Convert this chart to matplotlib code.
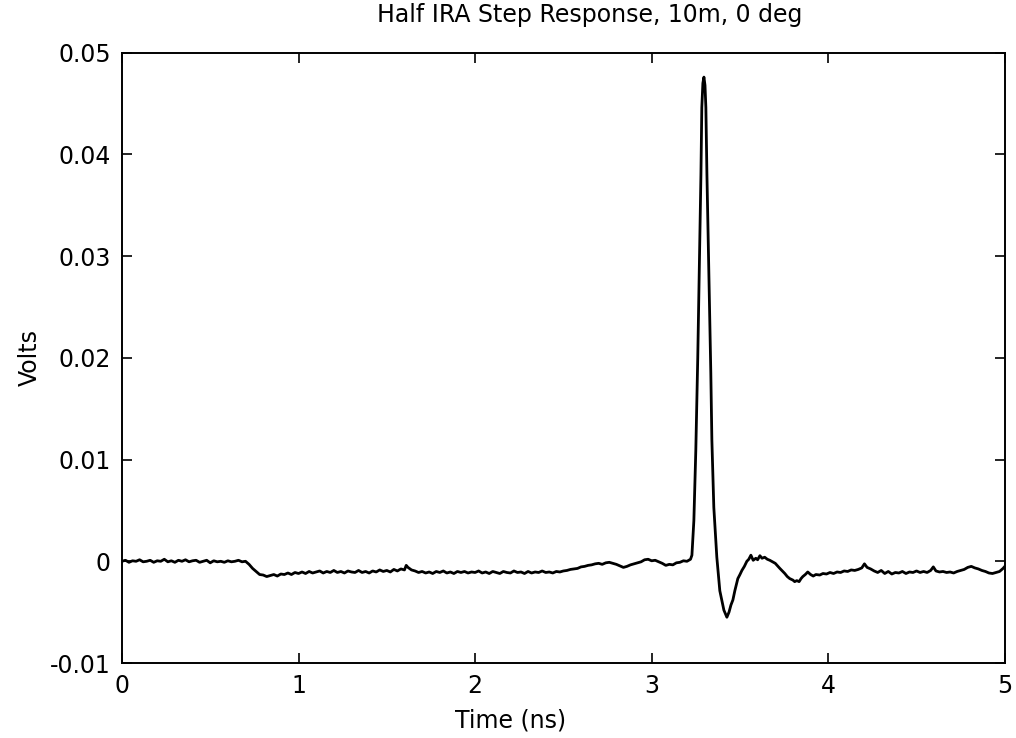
"""Half IRA step response trace, redrawn in matplotlib."""

import numpy as np
import matplotlib
matplotlib.use("Agg")
import matplotlib.pyplot as plt

# trace: time in ns, voltage in mV
time_ns = [
    0.00, 0.02, 0.04, 0.06, 0.08, 0.10, 0.12, 0.14, 0.16, 0.18,
    0.20, 0.22, 0.24, 0.26, 0.28, 0.30, 0.32, 0.34, 0.36, 0.38,
    0.40, 0.42, 0.44, 0.46, 0.48, 0.50, 0.52, 0.54, 0.56, 0.58,
    0.60, 0.62, 0.64, 0.66, 0.68, 0.70,
    0.72, 0.74, 0.76, 0.78, 0.80, 0.82, 0.84, 0.86, 0.88, 0.90,
    0.92, 0.94, 0.96, 0.98, 1.00,
    1.02, 1.04, 1.06, 1.08, 1.10, 1.12, 1.14, 1.16, 1.18, 1.20,
    1.22, 1.24, 1.26, 1.28, 1.30, 1.32, 1.34, 1.36, 1.38, 1.40,
    1.42, 1.44, 1.46, 1.48, 1.50, 1.52, 1.54, 1.56, 1.58, 1.60,
    1.61, 1.62, 1.64, 1.66, 1.68, 1.70, 1.72, 1.74, 1.76, 1.78,
    1.80, 1.82, 1.84, 1.86, 1.88, 1.90, 1.92, 1.94, 1.96, 1.98,
    2.00, 2.02, 2.04, 2.06, 2.08, 2.10, 2.12, 2.14, 2.16, 2.18,
    2.20, 2.22, 2.24, 2.26, 2.28, 2.30, 2.32, 2.34, 2.36, 2.38,
    2.40, 2.42, 2.44, 2.46, 2.48, 2.50, 2.52, 2.54, 2.56, 2.58,
    2.60, 2.62, 2.64, 2.66, 2.68, 2.70, 2.72, 2.74, 2.76, 2.78,
    2.80, 2.82, 2.84, 2.86, 2.88, 2.90, 2.92, 2.94, 2.96, 2.98,
    3.00, 3.02, 3.04, 3.06, 3.08, 3.10, 3.12, 3.14, 3.16, 3.18,
    3.20, 3.22,
    3.228, 3.239, 3.250, 3.261, 3.273, 3.279, 3.284, 3.290, 3.296, 3.302,
    3.307, 3.313, 3.324, 3.335, 3.341, 3.352, 3.369, 3.386, 3.398, 3.409,
    3.426, 3.438, 3.449, 3.460, 3.471, 3.488, 3.500, 3.511, 3.525, 3.539,
    3.550, 3.562, 3.575, 3.590, 3.600, 3.613, 3.625, 3.640, 3.655, 3.669,
    3.685, 3.700, 3.713, 3.726, 3.740, 3.754, 3.768, 3.782, 3.800, 3.810,
    3.822, 3.835, 3.846, 3.856, 3.870, 3.884, 3.900, 3.915, 3.930, 3.952,
    3.97, 3.99, 4.01, 4.03, 4.05, 4.07, 4.09, 4.11, 4.13, 4.15,
    4.17, 4.19, 4.205, 4.22, 4.24, 4.26, 4.28, 4.30, 4.32, 4.34,
    4.36, 4.38, 4.40, 4.42, 4.44, 4.46, 4.48, 4.50, 4.52, 4.54,
    4.56, 4.58, 4.595, 4.61, 4.63, 4.65, 4.67, 4.69, 4.71, 4.73,
    4.75, 4.77, 4.79, 4.81, 4.83, 4.85, 4.87, 4.89, 4.91, 4.93,
    4.95, 4.97, 4.99, 5.00,
]
volts_mv = [
    0.0, 0.1, -0.1, 0.05, 0.0, 0.15, -0.05, 0.0, 0.1, -0.1,
    0.05, 0.0, 0.2, -0.05, 0.05, -0.1, 0.1, 0.0, 0.15, -0.05,
    0.05, 0.1, -0.1, 0.0, 0.1, -0.15, 0.05, -0.05, 0.0, -0.1,
    0.05, -0.05, 0.0, 0.1, -0.05, 0.0,
    -0.3, -0.7, -1.0, -1.3, -1.35, -1.5, -1.4, -1.3, -1.45, -1.25,
    -1.3, -1.15, -1.3, -1.1, -1.2,
    -1.05, -1.2, -1.0, -1.15, -1.05, -0.95, -1.15, -1.0, -1.1, -0.9,
    -1.1, -1.0, -1.15, -0.95, -1.05, -1.1, -0.9, -1.1, -1.0, -1.15,
    -0.95, -1.05, -0.85, -1.0, -0.9, -1.05, -0.8, -0.95, -0.75, -0.85,
    -0.4, -0.6, -0.85, -0.95, -1.1, -1.0, -1.15, -1.05, -1.2, -1.0,
    -1.1, -0.95, -1.15, -1.05, -1.2, -1.0, -1.1, -1.0, -1.15, -1.05,
    -1.1, -0.95, -1.15, -1.05, -1.2, -1.0, -1.1, -1.2, -1.0, -1.1,
    -1.15, -0.95, -1.1, -1.05, -1.2, -1.0, -1.15, -1.05, -1.1, -0.95,
    -1.1, -1.05, -1.15, -1.0, -1.05, -0.95, -0.9, -0.8, -0.75, -0.7,
    -0.55, -0.5, -0.4, -0.35, -0.25, -0.2, -0.3, -0.15, -0.1, -0.2,
    -0.3, -0.45, -0.6, -0.5, -0.35, -0.25, -0.15, -0.05, 0.15, 0.2,
    0.05, 0.1, -0.05, -0.2, -0.4, -0.3, -0.35, -0.15, -0.1, 0.05,
    0.0, 0.2,
    0.6, 4.0, 10.9, 20.0, 31.6, 38.0, 44.6, 47.0, 47.6, 46.8,
    44.6, 38.0, 28.3, 18.5, 11.9, 5.3, 0.4, -2.9, -3.9, -4.8,
    -5.5, -5.0, -4.3, -3.8, -2.9, -1.7, -1.3, -0.9, -0.5, 0.0,
    0.2, 0.6, 0.1, 0.3, 0.15, 0.55, 0.3, 0.4, 0.2, 0.1,
    -0.05, -0.2, -0.45, -0.7, -0.95, -1.2, -1.5, -1.7, -1.85, -2.0,
    -1.9, -2.0, -1.7, -1.5, -1.3, -1.05, -1.3, -1.45, -1.3, -1.35,
    -1.2, -1.25, -1.1, -1.2, -1.05, -1.1, -0.95, -1.0, -0.85, -0.9,
    -0.8, -0.65, -0.25, -0.6, -0.75, -0.95, -1.1, -0.9, -1.2, -1.0,
    -1.25, -1.1, -1.15, -1.0, -1.2, -1.05, -1.1, -0.95, -1.1, -1.0,
    -1.1, -0.9, -0.55, -0.95, -1.05, -1.0, -1.1, -1.05, -1.15, -1.0,
    -0.9, -0.8, -0.6, -0.5, -0.65, -0.75, -0.9, -1.0, -1.15, -1.2,
    -1.1, -1.0, -0.7, -0.5,
]

x_ticks = [0, 1, 2, 3, 4, 5]
y_ticks = [-0.01, 0, 0.01, 0.02, 0.03, 0.04, 0.05]
y_tick_labels = ["-0.01", "0", "0.01", "0.02", "0.03", "0.04", "0.05"]

plt.rcParams["font.family"] = ["DejaVu Sans"]

fig = plt.figure(figsize=(10.16, 7.38), dpi=100)
ax = fig.add_axes([0.120, 0.1016, 0.869, 0.827])

ax.plot(time_ns, np.array(volts_mv) * 1e-3, color="black", linewidth=2.0)

ax.set_xlim(0, 5)
ax.set_ylim(-0.01, 0.05)
ax.set_xticks(x_ticks)
ax.set_yticks(y_ticks)
ax.set_yticklabels(y_tick_labels)
ax.tick_params(direction="in", length=7, width=1.2, top=True, right=True,
               labelsize=17, pad=8)
for spine in ax.spines.values():
    spine.set_linewidth(1.4)

# the scanned original has title and x label slightly off centre
ax.set_title("Half IRA Step Response, 10m, 0 deg", fontsize=17, pad=22, x=0.53)
ax.set_xlabel("Time (ns)", fontsize=17, labelpad=5)
ax.xaxis.set_label_coords(0.44, -0.075)
ax.set_ylabel("Volts", fontsize=17, labelpad=6)

fig.savefig("out.png", dpi=100, facecolor="white")
